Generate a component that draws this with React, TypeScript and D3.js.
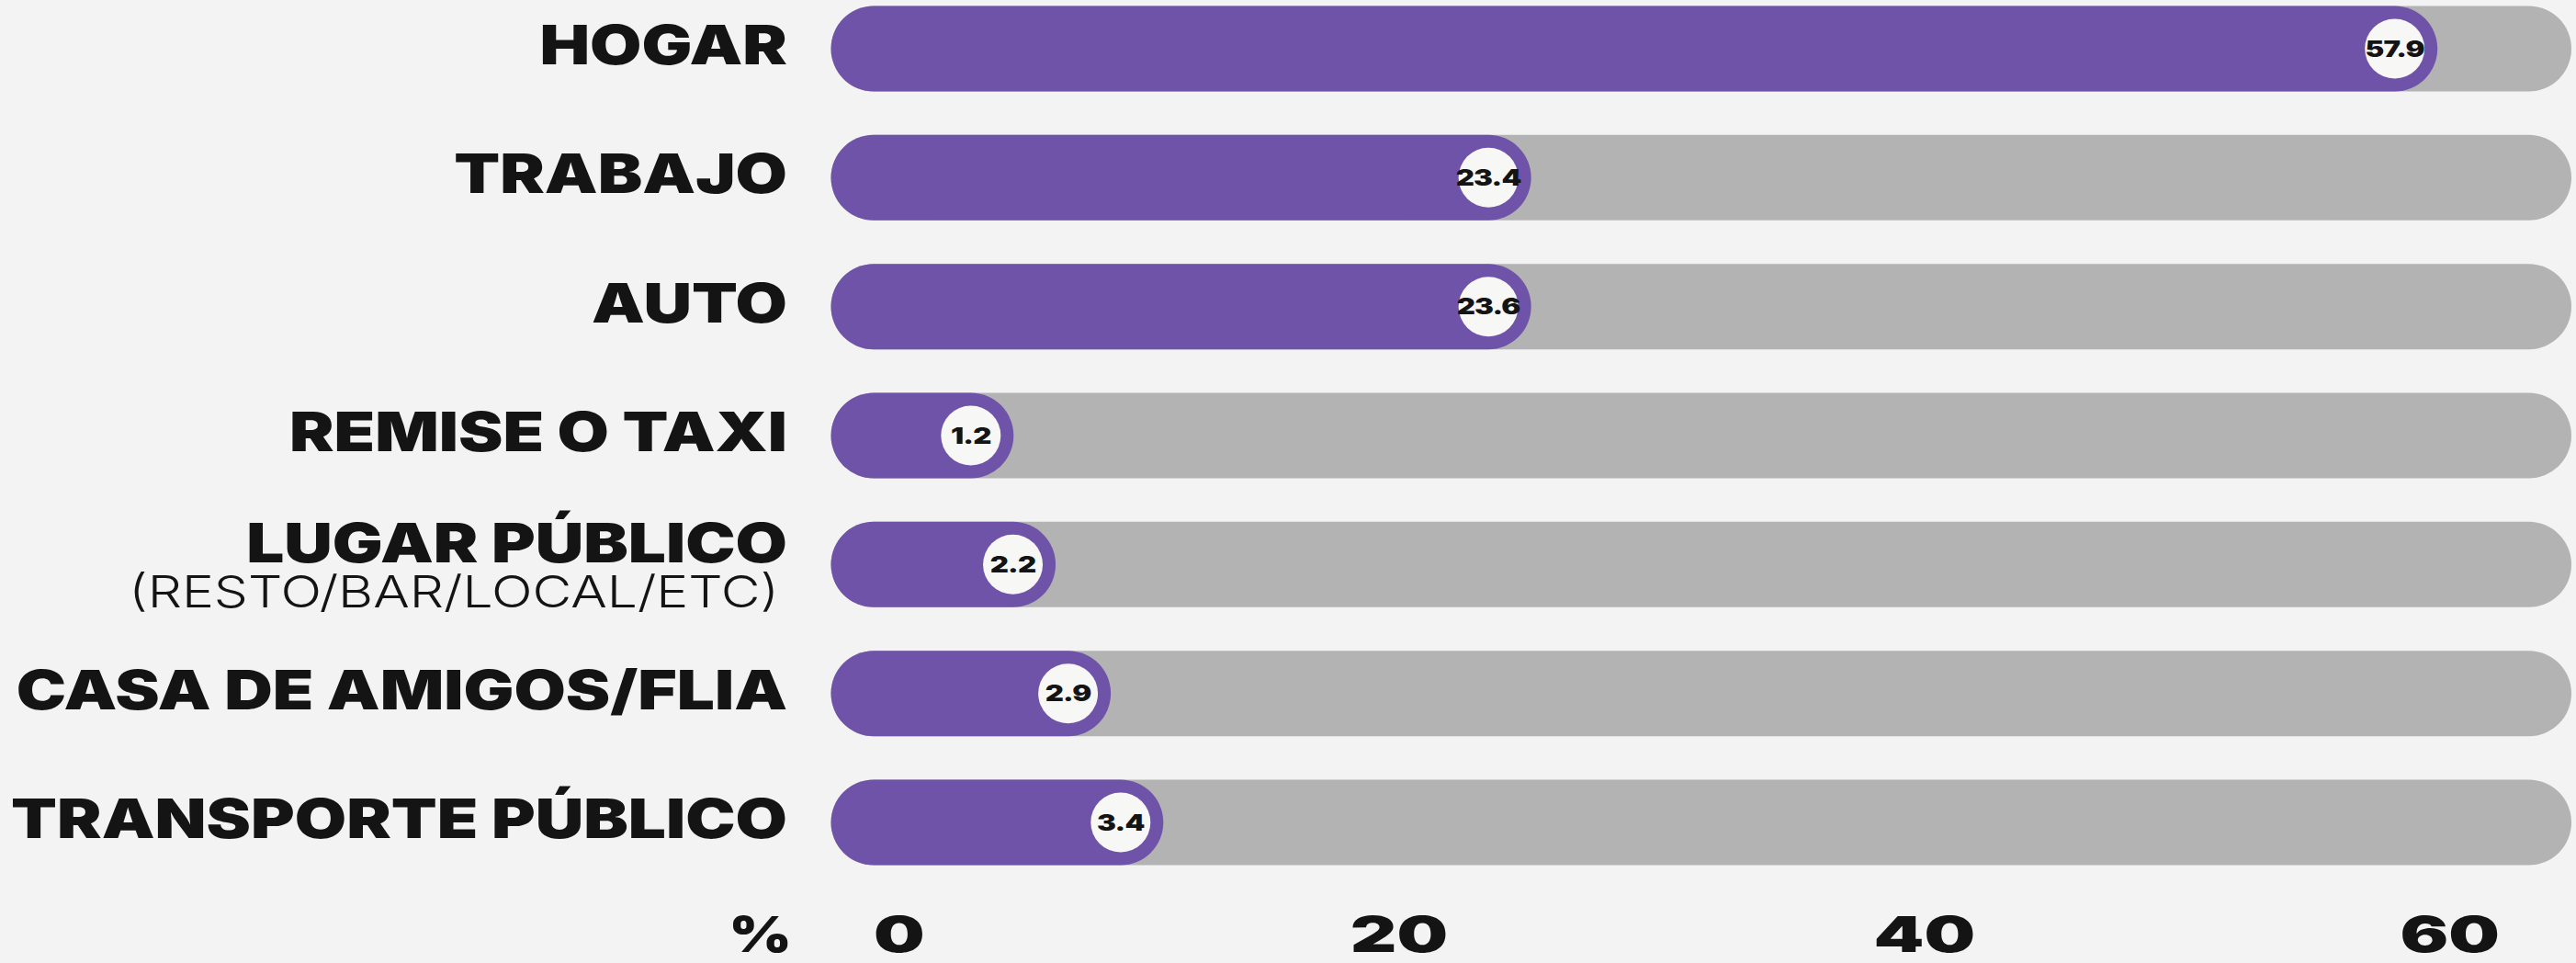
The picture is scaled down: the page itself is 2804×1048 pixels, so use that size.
import React, { useEffect, useRef } from "react";
import * as d3 from "d3";

// ---- data ----
const categories = [
  "HOGAR",
  "TRABAJO",
  "AUTO",
  "REMISE O TAXI",
  "LUGAR PÚBLICO",
  "CASA DE AMIGOS/FLIA",
  "TRANSPORTE PÚBLICO",
];
const subLabels = ["", "", "", "", "(RESTO/BAR/LOCAL/ETC)", "", ""];
// printed percentage in each marker
const values = [57.9, 23.4, 23.6, 1.2, 2.2, 2.9, 3.4];
// where each bar's marker sits, read against the % axis of the picture
const markerAt = [57.9, 23.4, 23.4, 3.7, 5.3, 7.4, 9.4];
const tickValues = [0, 20, 40, 60];
const axisUnit = "%";
const trackMax = 63;

const W = 2804;
const H = 1048;
const BG = "#f3f3f3";
const PURPLE = "#6f53a8";
const TRACK = "#b3b3b3";
const INK = "#141414";
const FONT = "Inter, 'Liberation Sans', Arial, sans-serif";

export default function App() {
  const ref = useRef<SVGSVGElement | null>(null);

  useEffect(() => {
    const svg = d3.select(ref.current);
    svg.selectAll("*").remove();

    const x = d3.scaleLinear().domain([0, trackMax]).range([951, 2752.5]);
    const y = d3.scalePoint<string>().domain(categories).range([53, 895]);
    const barH = 93;
    const r = barH / 2;

    svg.append("rect").attr("width", W).attr("height", H).attr("fill", BG);

    const rows = svg
      .append("g")
      .selectAll("g")
      .data(categories.map((c, i) => ({ c, i })))
      .join("g")
      .attr("transform", (d) => `translate(0,${y(d.c)})`);

    // gray track
    rows
      .append("rect")
      .attr("x", x(0) - r)
      .attr("y", -r)
      .attr("width", x(trackMax) - x(0) + barH)
      .attr("height", barH)
      .attr("rx", r)
      .attr("fill", TRACK);

    // purple bar
    rows
      .append("rect")
      .attr("x", x(0) - r)
      .attr("y", -r)
      .attr("width", (d) => x(markerAt[d.i]) - x(0) + barH)
      .attr("height", barH)
      .attr("rx", r)
      .attr("fill", PURPLE);

    // white marker
    rows
      .append("circle")
      .attr("cx", (d) => x(markerAt[d.i]))
      .attr("cy", 0)
      .attr("r", 32.5)
      .attr("fill", "#f7f7f5");

    const valSx = 1.3;
    rows
      .append("text")
      .attr("transform", (d) => `translate(${x(markerAt[d.i])},8.5) scale(${valSx},1)`)
      .attr("text-anchor", "middle")
      .attr("font-family", FONT)
      .attr("font-weight", 900)
      .attr("font-size", 24)
      .attr("letter-spacing", -0.6)
      .attr("fill", INK)
      .text((d) => values[d.i].toFixed(1));

    // category labels
    const labels = rows
      .append("text")
      .attr("text-anchor", "end")
      .attr("font-family", FONT)
      .attr("font-weight", 900)
      .attr("font-size", 59)
      .attr("fill", INK)
      .text((d) => d.c);

    const longest = labels
      .filter((d) => d.c === "TRANSPORTE PÚBLICO")
      .node() as SVGTextElement | null;
    const natural = longest ? longest.getComputedTextLength() : 845;
    const labSx = 845 / natural;
    labels.attr(
      "transform",
      (d) => `translate(857,${subLabels[d.i] ? -2 : 17}) scale(${labSx},1)`
    );

    const subs = rows
      .filter((d) => !!subLabels[d.i])
      .append("text")
      .attr("text-anchor", "end")
      .attr("font-family", FONT)
      .attr("font-weight", 300)
      .attr("font-size", 48)
      .attr("fill", INK)
      .text((d) => subLabels[d.i]);
    subs.each(function () {
      const el = this as SVGTextElement;
      const w = el.getComputedTextLength();
      d3.select(el).attr("transform", `translate(848,47) scale(${708 / w},1)`);
    });

    // axis tick labels
    const axis = svg.append("g").attr("transform", "translate(0,1036)");
    const tickSx = 1.45;
    axis
      .selectAll("text.tick")
      .data(tickValues)
      .join("text")
      .attr("class", "tick")
      .attr("transform", (v) => `translate(${x(v)},0) scale(${tickSx},1)`)
      .attr("text-anchor", (v) => (v === 0 ? "start" : "middle"))
      .attr("font-family", FONT)
      .attr("font-weight", 900)
      .attr("font-size", 54)
      .attr("fill", INK)
      .text((v) => String(v));

    axis
      .append("text")
      .attr("transform", `translate(862,0) scale(1.22,1)`)
      .attr("text-anchor", "end")
      .attr("font-family", FONT)
      .attr("font-weight", 900)
      .attr("font-size", 54)
      .attr("fill", INK)
      .text(axisUnit);
  }, []);

  return (
    <svg
      ref={ref}
      width={W}
      height={H}
      style={{ position: "absolute", left: 0, top: 0, display: "block" }}
    />
  );
}
